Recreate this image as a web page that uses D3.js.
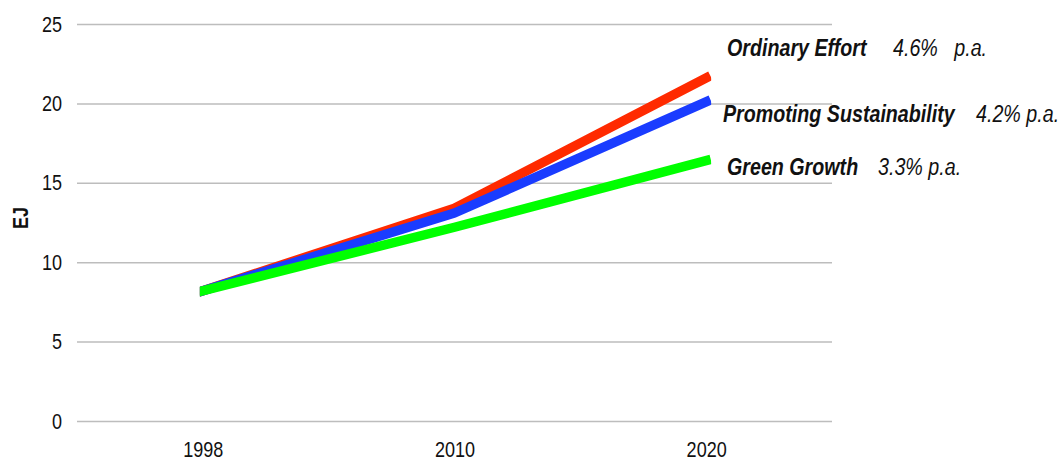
<!DOCTYPE html>
<html>
<head>
<meta charset="utf-8">
<script src="https://cdn.jsdelivr.net/npm/d3@7"></script>
<style>
  body { margin: 0; background: #fff; }
  text { font-family: "Liberation Sans", Arial, sans-serif; }
</style>
</head>
<body>
<div id="chart"></div>
<script>
// data
var years = ['1998', '2010', '2020'];
var ordinaryEffort = [8.2, 13.4, 21.6];
var promotingSustainability = [8.2, 13.1, 20.1];
var greenGrowth = [8.2, 12.2, 16.4];
var yTicks = [0, 5, 10, 15, 20, 25];
var seriesNames = ['Ordinary Effort', 'Promoting Sustainability', 'Green Growth'];
var seriesRates = ['4.6%   p.a.', '4.2% p.a.', '3.3% p.a.'];

var width = 1059, height = 462;
var margin = {top: 24, right: 227, bottom: 41, left: 77};
var narrow = 0.82; // the original uses a narrow face, squeeze Liberation Sans

var svg = d3.select('#chart')
  .append('svg')
    .attr('width', width)
    .attr('height', height);

var g = svg.append('g')
    .attr('transform', 'translate(' + margin.left + ',' + margin.top + ')');

var w = width - margin.left - margin.right,
    h = height - margin.top - margin.bottom;

var x = d3.scalePoint()
  .domain(years)
  .range([0, w])
  .padding(0.5);

var y = d3.scaleLinear()
  .domain([0, 25])
  .range([h, 0]);

// gridlines
g.selectAll('line.grid')
  .data(yTicks)
  .enter()
  .append('line')
    .attr('class', 'grid')
    .attr('x1', 0)
    .attr('x2', w)
    .attr('y1', function(d) { return y(d) + 0.5; })
    .attr('y2', function(d) { return y(d) + 0.5; })
    .attr('stroke', '#bdbdbd')
    .attr('stroke-width', 1.5);

// y axis labels
var yAxis = g.append('g')
  .call(d3.axisLeft(y).tickValues(yTicks).tickSize(0).tickPadding(15 / narrow));
yAxis.select('.domain').remove();
yAxis.selectAll('text')
  .attr('font-size', '22px')
  .attr('font-family', '"Liberation Sans", Arial, sans-serif')
  .attr('fill', '#111')
  .attr('transform', 'scale(' + narrow + ',1)');

// x axis labels
var xAxis = g.append('g')
  .attr('transform', 'translate(0,' + h + ')')
  .call(d3.axisBottom(x).tickSize(0).tickPadding(20));
xAxis.select('.domain').remove();
xAxis.selectAll('text')
  .attr('font-size', '22px')
  .attr('font-family', '"Liberation Sans", Arial, sans-serif')
  .attr('fill', '#111')
  .attr('transform', 'scale(' + narrow + ',1)');

// y title
svg.append('text')
  .attr('transform', 'translate(28,218) rotate(-90) scale(' + narrow + ',1)')
  .attr('text-anchor', 'middle')
  .attr('font-size', '22px')
  .attr('font-weight', 'bold')
  .attr('fill', '#111')
  .text('EJ');

// clip so line ends are cut vertically
svg.append('clipPath')
  .attr('id', 'ends')
  .append('rect')
    .attr('x', x('1998') - 3)
    .attr('y', -20)
    .attr('width', x('2020') - x('1998') + 8)
    .attr('height', h + 40);

var line = d3.line()
  .x(function(d, i) { return x(years[i]); })
  .y(function(d) { return y(d); });

var series = [
  {values: ordinaryEffort, color: '#ff2a00'},
  {values: promotingSustainability, color: '#1a3cff'},
  {values: greenGrowth, color: '#00ff00'}
];

var lines = g.append('g').attr('clip-path', 'url(#ends)');
lines.selectAll('path')
  .data(series)
  .enter()
  .append('path')
    .attr('d', function(d) { return line(d.values); })
    .attr('fill', 'none')
    .attr('stroke', function(d) { return d.color; })
    .attr('stroke-width', 9.5)
    .attr('stroke-linecap', 'square')
    .attr('stroke-linejoin', 'round');

// series annotations
var labelPos = [
  {x: 727, y: 56, rx: 893},
  {x: 723, y: 122, rx: 976},
  {x: 727, y: 175, rx: 878}
];
labelPos.forEach(function(p, i) {
  svg.append('text')
    .attr('transform', 'translate(' + p.x + ',' + p.y + ') scale(' + narrow + ',1)')
    .attr('font-size', '24px')
    .attr('font-weight', 'bold')
    .attr('font-style', 'italic')
    .attr('fill', '#111')
    .text(seriesNames[i]);
  svg.append('text')
    .attr('transform', 'translate(' + p.rx + ',' + p.y + ') scale(' + narrow + ',1)')
    .attr('font-size', '24px')
    .attr('font-style', 'italic')
    .attr('fill', '#111')
    .style('white-space', 'pre')
    .text(seriesRates[i]);
});
</script>
</body>
</html>
